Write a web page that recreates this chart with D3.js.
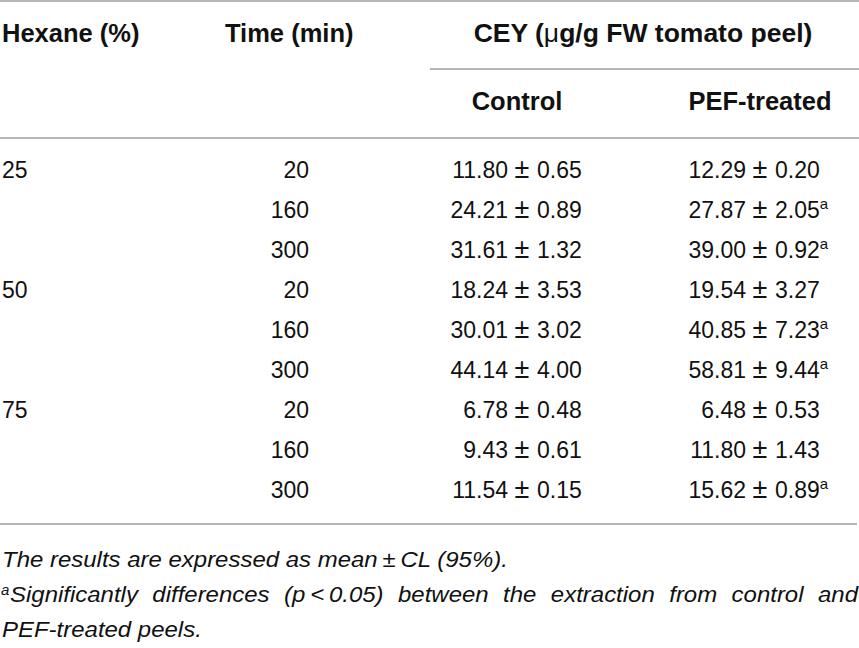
<!DOCTYPE html>
<html>
<head>
<meta charset="utf-8">
<script src="https://cdn.jsdelivr.net/npm/d3@7"></script>
<style>
  body { margin: 0; background: #fff; }
  svg { display: block; }
  text { font-family: "Liberation Sans", Arial, sans-serif; fill: #111; }
  .head { font-weight: bold; font-size: 25.5px; }
  .cell { font-size: 23px; }
  .note { font-style: italic; font-size: 22px; }
</style>
</head>
<body>
<script>
// table content
var hexane = ["25", "", "", "50", "", "", "75", "", ""];
var times = ["20", "160", "300", "20", "160", "300", "20", "160", "300"];
var controlMean = ["11.80", "24.21", "31.61", "18.24", "30.01", "44.14", "6.78", "9.43", "11.54"];
var controlCL = ["0.65", "0.89", "1.32", "3.53", "3.02", "4.00", "0.48", "0.61", "0.15"];
var pefMean = ["12.29", "27.87", "39.00", "19.54", "40.85", "58.81", "6.48", "11.80", "15.62"];
var pefCL = ["0.20", "2.05", "0.92", "3.27", "7.23", "9.44", "0.53", "1.43", "0.89"];
var pefSig = [false, true, true, false, true, true, false, false, true];
var notes = ["The results are expressed as mean\u2009\u00b1\u2009CL (95%).",
             "Significantly differences (p\u2009<\u20090.05) between the extraction from control and",
             "PEF-treated peels."];

var width = 859, height = 648;
var svg = d3.select('body').append('svg').attr('width', width).attr('height', height);

// rows are placed by index on a linear scale (baselines)
var y = d3.scaleLinear().domain([0, times.length - 1]).range([178, 498]);
var rows = d3.range(times.length);

// rules
var rule = function(x1, x2, yy) {
    svg.append('line').attr('x1', x1).attr('x2', x2).attr('y1', yy).attr('y2', yy)
        .attr('stroke', '#9e9e9e').attr('stroke-width', 1.6);
};
rule(0, 859, 1);
rule(430, 859, 69);
rule(0, 859, 138);
rule(0, 857, 524);

// header
svg.append('text').attr('class', 'head').attr('x', 2).attr('y', 42).text('Hexane (%)');
svg.append('text').attr('class', 'head').attr('x', 225).attr('y', 42).text('Time (min)');
var cey = svg.append('text').attr('class', 'head').attr('x', 643).attr('y', 42)
    .attr('text-anchor', 'middle').style('font-size', '26.5px');
cey.append('tspan').text('CEY (');
cey.append('tspan').attr('font-weight', 'normal').text('\u03bc');
cey.append('tspan').text('g/g FW tomato peel)');
svg.append('text').attr('class', 'head').attr('x', 517).attr('y', 110).attr('text-anchor', 'middle').text('Control');
svg.append('text').attr('class', 'head').attr('x', 760).attr('y', 110).attr('text-anchor', 'middle').text('PEF-treated');

// body
var body = svg.append('g');
body.selectAll('text.hex').data(rows).enter().append('text').attr('class', 'cell hex')
    .attr('x', 2).attr('y', function(i) { return y(i); }).text(function(i) { return hexane[i]; });
body.selectAll('text.time').data(rows).enter().append('text').attr('class', 'cell time')
    .attr('x', 309).attr('y', function(i) { return y(i); }).attr('text-anchor', 'end')
    .text(function(i) { return times[i]; });

// mean ± CL columns, aligned on the ± sign
var columns = [
    {mean: controlMean, cl: controlCL, sig: null, pm: 522},
    {mean: pefMean, cl: pefCL, sig: pefSig, pm: 760}
];
columns.forEach(function(c) {
    body.selectAll(null).data(rows).enter().append('text').attr('class', 'cell')
        .attr('x', c.pm - 14).attr('y', function(i) { return y(i); }).attr('text-anchor', 'end')
        .text(function(i) { return c.mean[i]; });
    body.selectAll(null).data(rows).enter().append('text').attr('class', 'cell')
        .attr('x', c.pm).attr('y', function(i) { return y(i); }).attr('text-anchor', 'middle')
        .style('font-size', '27px').text('\u00b1');
    var t = body.selectAll(null).data(rows).enter().append('text').attr('class', 'cell')
        .attr('x', c.pm + 15).attr('y', function(i) { return y(i); });
    t.append('tspan').text(function(i) { return c.cl[i]; });
    t.append('tspan').attr('dy', -9).attr('font-size', 15)
        .text(function(i) { return c.sig && c.sig[i] ? 'a' : ''; });
});

// footnotes: italic, stretched to the measured line widths, second line justified
var n1 = svg.append('text').attr('class', 'note').text(notes[0]);
var sx = 506 / n1.node().getComputedTextLength();
n1.attr('transform', 'translate(2,567) scale(' + sx + ',1)');
svg.append('text').attr('class', 'note')
    .attr('transform', 'translate(2,637) scale(' + sx + ',1)').text(notes[2]);
svg.append('text').attr('x', 1).attr('y', 595)
    .style('font-size', '15px').style('font-style', 'italic').text('a');

var words = notes[1].split(' ');
var wg = svg.append('g').attr('transform', 'translate(0,602)')
    .selectAll('text').data(words).enter().append('text').attr('class', 'note')
    .text(function(d) { return d; });
var ww = [];
wg.each(function() { ww.push(this.getComputedTextLength() * sx); });
var x0 = 10, x1 = 858;
var gap = (x1 - x0 - d3.sum(ww)) / (words.length - 1);
var pos = [], acc = x0;
ww.forEach(function(w) { pos.push(acc); acc += w + gap; });
wg.attr('transform', function(d, i) { return 'translate(' + pos[i] + ',0) scale(' + sx + ',1)'; });
</script>
</body>
</html>
